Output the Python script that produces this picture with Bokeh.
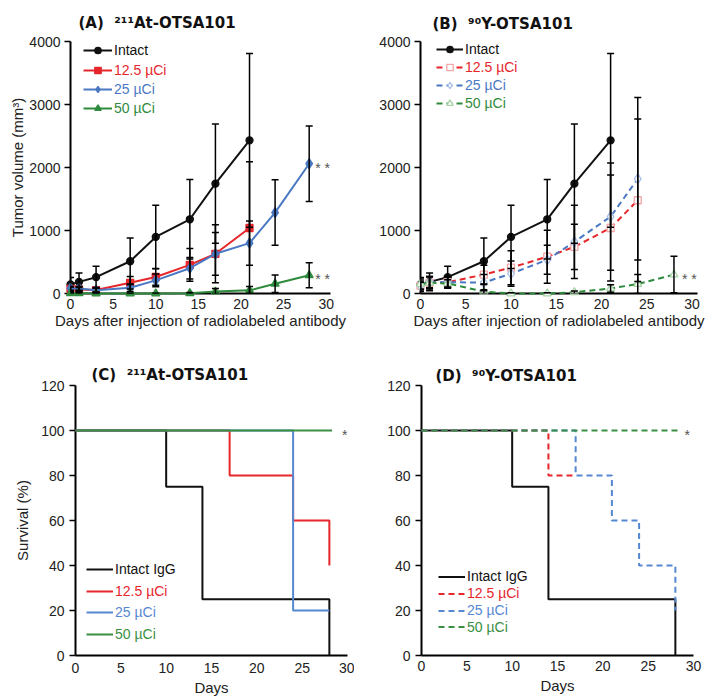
from bokeh.plotting import figure
from bokeh.models import (ColumnDataSource, Whisker, TeeHead, Legend, LegendItem,
                          Label, Range1d, FixedTicker)
from bokeh.layouts import row, column
from bokeh.embed import file_html
from bokeh.resources import INLINE

FONT = "Liberation Sans"
TITLE_FONT = "DejaVu Sans"

# ---------------- data: tumour volume (mm^3) ----------------
intact_days = [0, 1, 3, 7, 10, 14, 17, 21]
intact_mean = [143, 185, 259, 512, 898, 1178, 1744, 2431]
intact_sd = [110, 140, 175, 368, 502, 632, 946, 1379]

a125_days = [0, 1, 3, 7, 10, 14, 17, 21]
a125_mean = [74, 64, 55, 170, 262, 454, 630, 1040]
a125_sd = [30, 30, 40, 100, 130, 260, 460, 1050]

a25_days = [0, 1, 3, 7, 10, 14, 17, 21, 24, 28]
a25_mean = [80, 80, 53, 90, 208, 401, 630, 800, 1284, 2060]
a25_sd = [30, 30, 30, 60, 100, 170, 340, 350, 520, 600]

a50_days = [0, 1, 3, 7, 10, 14, 17, 21, 24, 28]
a50_mean = [5, 5, 0, 0, 0, 5, 30, 50, 155, 290]
a50_sd = [5, 5, 5, 5, 5, 10, 50, 60, 140, 200]

b125_days = [0, 1, 3, 7, 10, 14, 17, 21, 24]
b125_mean = [120, 170, 180, 300, 410, 583, 740, 1040, 1480]
b125_sd = [60, 90, 80, 150, 270, 420, 360, 840, 1290]

b25_days = [0, 1, 3, 7, 10, 14, 17, 21, 24]
b25_mean = [130, 180, 180, 173, 315, 535, 820, 1220, 1820]
b25_sd = [70, 90, 90, 130, 200, 230, 580, 850, 1290]

b50_days = [0, 1, 3, 7, 10, 14, 17, 21, 24, 28]
b50_mean = [150, 170, 160, 30, 0, 0, 20, 80, 150, 300]
b50_sd = [80, 100, 60, 30, 10, 10, 20, 60, 150, 290]

# ---------------- data: survival (%) ----------------
c_intact_days = [0, 10, 14, 28]
c_intact_surv = [100, 75, 25, 0]
c125_days = [0, 17, 24, 28]
c125_surv = [100, 80, 60, 40]
c25_days = [0, 24, 28]
c25_surv = [100, 20, 20]
c50_days = [0, 28.3]
c50_surv = [100, 100]

d_intact_days = [0, 10, 14, 28]
d_intact_surv = [100, 75, 25, 0]
d125_days = [0, 14, 17]
d125_surv = [100, 80, 80]
d25_days = [0, 17, 21, 24, 28]
d25_surv = [100, 80, 60, 40, 20]
d50_days = [0, 28.4]
d50_surv = [100, 100]

vol_ticks = [0, 1000, 2000, 3000, 4000]
surv_ticks = [0, 20, 40, 60, 80, 100, 120]
day_ticks = [0, 5, 10, 15, 20, 25, 30]

legend_a = ["Intact", "12.5 µCi", "25 µCi", "50 µCi"]
legend_c = ["Intact IgG", "12.5 µCi", "25 µCi", "50 µCi"]
titles = ["(A)\u00a0 ²¹¹At-OTSA101", "(B)\u00a0 ⁹⁰Y-OTSA101",
          "(C)\u00a0 ²¹¹At-OTSA101", "(D)\u00a0 ⁹⁰Y-OTSA101"]

BLACK = "#111111"
RED = "#e5262b"
BLUE = "#4a78c2"
GREEN = "#2e8a3c"
RED_P = "#f2a6a8"
BLUE_P = "#a9c0e8"
GREEN_P = "#a8d4a8"
KM_BLUE = "#5688d2"
KM_GREEN = "#3a8f42"
GREY = "#555555"


def make_fig(ox, oy, W, H, fl, fr, ft, fb, xmax, ymax, yticks,
             ylabel, xlabel, ylab_standoff, ytick_standoff, xtick_standoff, xlab_standoff,
             title, t_offset, t_standoff):
    p = figure(width=W, height=H, output_backend="svg", toolbar_location=None,
               x_range=Range1d(0, xmax), y_range=Range1d(0, ymax),
               min_border_left=fl - ox, min_border_right=ox + W - fr,
               min_border_top=ft - oy, min_border_bottom=oy + H - fb,
               title=title)
    p.title.align = "left"
    p.title.offset = t_offset
    p.title.standoff = t_standoff
    p.title.text_font = TITLE_FONT
    p.title.text_font_size = "15px"
    p.title.text_font_style = "bold"
    p.title.text_color = "#111111"
    p.title.vertical_align = "bottom"
    p.grid.visible = False
    p.outline_line_color = None
    p.background_fill_color = "white"
    p.border_fill_color = "white"
    for ax in (p.xaxis[0], p.yaxis[0]):
        ax.axis_line_color = "black"
        ax.axis_line_width = 2
        ax.major_tick_line_color = "black"
        ax.major_tick_line_width = 1.5
        ax.minor_tick_line_color = None
        ax.major_label_text_font = FONT
        ax.major_label_text_font_size = "14px"
        ax.major_label_text_color = "#222222"
        ax.axis_label_text_font = FONT
        ax.axis_label_text_font_size = "15px"
        ax.axis_label_text_font_style = "normal"
        ax.axis_label_text_color = "#222222"
    p.xaxis.ticker = FixedTicker(ticks=day_ticks)
    p.yaxis.ticker = FixedTicker(ticks=yticks)
    p.xaxis.major_tick_out = 0
    p.xaxis.major_tick_in = 0
    p.yaxis.major_tick_out = 6
    p.yaxis.major_tick_in = 0
    p.yaxis.major_label_standoff = ytick_standoff
    p.xaxis.major_label_standoff = xtick_standoff
    if ylabel:
        p.yaxis.axis_label = ylabel
        p.yaxis.axis_label_standoff = ylab_standoff
    if xlabel:
        p.xaxis.axis_label = xlabel
        p.xaxis.axis_label_standoff = xlab_standoff
    return p


def legend(p, fl, fb, renderers, text, color, gx, gy, gw=28, h=16, standoff=2):
    leg = Legend(items=[LegendItem(label=text, renderers=renderers)],
                 location=(gx - fl, fb - (gy + h / 2)),
                 glyph_width=gw, glyph_height=h, label_height=h,
                 label_standoff=standoff, padding=0, margin=0, spacing=0,
                 border_line_alpha=0, background_fill_alpha=0,
                 label_text_font=FONT, label_text_font_size="14px",
                 label_text_color=color, level="overlay")
    p.add_layout(leg)


def series(p, days, mean, sd, color, marker, size, mcolor, mfill, dash="solid"):
    upper = [m + s for m, s in zip(mean, sd)]
    lower = [max(0, m - s) for m, s in zip(mean, sd)]
    src = ColumnDataSource(dict(x=days, y=mean, upper=upper, lower=lower))
    p.add_layout(Whisker(source=src, base="x", upper="upper", lower="lower",
                         line_color="black", line_width=1.5, level="overlay",
                         upper_head=TeeHead(size=7, line_color="black", line_width=1.5),
                         lower_head=TeeHead(size=7, line_color="black", line_width=1.5)))
    ln = p.line("x", "y", source=src, line_color=color, line_width=2,
                line_dash=dash, level="overlay")
    sc = p.scatter("x", "y", source=src, marker=marker, size=size,
                   line_color=mcolor, fill_color=mfill, line_width=1.3, level="overlay")
    return [ln, sc]


def stars(p, x, y, text, dx=8):
    p.add_layout(Label(x=x, y=y, text=text, x_offset=dx, y_offset=-4,
                       text_font=FONT, text_font_size="14px", text_color=GREY,
                       text_align="left", text_baseline="middle", level="overlay"))


# ---------------- panel A ----------------
A = dict(ox=0, oy=0, W=354, H=333, fl=70, ft=41, fb=293)
A_XEND = 30.5
A_FR = round(A["fl"] + A_XEND * 256 / 30)
pa = make_fig(A["ox"], A["oy"], A["W"], A["H"], A["fl"], A_FR, A["ft"], A["fb"],
              A_XEND, 4000, vol_ticks, "Tumor volume (mm³)",
              "Days after injection of radiolabeled antibody", 0, 4, 5, 0,
              titles[0], 8, 19)
ra0 = series(pa, intact_days, intact_mean, intact_sd, BLACK, "circle", 7, BLACK, BLACK)
ra1 = series(pa, a125_days, a125_mean, a125_sd, RED, "square", 7, RED, RED)
ra2 = series(pa, a25_days, a25_mean, a25_sd, BLUE, "diamond", 10, BLUE, BLUE)
ra3 = series(pa, a50_days, a50_mean, a50_sd, GREEN, "triangle", 8, GREEN, GREEN)
stars(pa, a25_days[-1], a25_mean[-1], "* *", dx=6)
stars(pa, a50_days[-1], a50_mean[-1], "* *", dx=6)
for i, (r, c) in enumerate(zip([ra0, ra1, ra2, ra3], [BLACK, RED, BLUE, GREEN])):
    legend(pa, A["fl"], A["fb"], r, legend_a[i], c, 83, [50, 69.5, 89, 108][i], gw=29)

# ---------------- panel B ----------------
B = dict(ox=354, oy=0, W=355, H=333, fl=420, ft=39, fb=293)
B_XEND = 30.6
B_FR = round(B["fl"] + B_XEND * 272 / 30)
pb = make_fig(B["ox"], B["oy"], B["W"], B["H"], B["fl"], B_FR, B["ft"], B["fb"],
              B_XEND, 4000, vol_ticks, None,
              "Days after injection of radiolabeled antibody", 1, 4, 5, 0,
              titles[1], 12, 17)
rb0 = series(pb, intact_days, intact_mean, intact_sd, BLACK, "circle", 7, BLACK, BLACK)
rb1 = series(pb, b125_days, b125_mean, b125_sd, RED, "square", 7, RED_P, "white", "6 4")
rb2 = series(pb, b25_days, b25_mean, b25_sd, BLUE, "diamond", 10, BLUE_P, "white", "6 4")
rb3 = series(pb, b50_days, b50_mean, b50_sd, GREEN, "triangle", 8, GREEN_P, "white", "6 4")
stars(pb, b50_days[-1], b50_mean[-1], "* *", dx=8)
for i, (r, c) in enumerate(zip([rb0, rb1, rb2, rb3], [BLACK, RED, BLUE, GREEN])):
    legend(pb, B["fl"], B["fb"], r, legend_a[i], c, 436, [48.5, 66.5, 85, 103][i], gw=27)

# ---------------- panel C ----------------
C = dict(ox=0, oy=333, W=354, H=367, fl=75, fr=347, ft=382, fb=655)
pc = make_fig(C["ox"], C["oy"], C["W"], C["H"], C["fl"], C["fr"], C["ft"], C["fb"],
              30, 120, surv_ticks, "Survival (%)", "Days", 7, 5, 7, 3,
              titles[2], 16, 4)
rc0 = pc.step(c_intact_days, c_intact_surv, mode="after", line_color=BLACK, line_width=2, level="overlay")
rc1 = pc.step(c125_days, c125_surv, mode="after", line_color=RED, line_width=2, level="overlay")
rc2 = pc.step(c25_days, c25_surv, mode="after", line_color=KM_BLUE, line_width=2, level="overlay")
rc3 = pc.step(c50_days, c50_surv, mode="after", line_color=KM_GREEN, line_width=2, level="overlay")
stars(pc, 29.4, 100, "*", dx=0)
for i, (r, c) in enumerate(zip([rc0, rc1, rc2, rc3], [BLACK, RED, KM_BLUE, KM_GREEN])):
    legend(pc, C["fl"], C["fb"], [r], legend_c[i], c, 86, [569, 590.5, 612, 633.5][i], gw=27, h=20)

# ---------------- panel D ----------------
D = dict(ox=354, oy=333, W=355, H=367, fl=421, fr=693, ft=385, fb=657)
pd_ = make_fig(D["ox"], D["oy"], D["W"], D["H"], D["fl"], D["fr"], D["ft"], D["fb"],
               30, 120, surv_ticks, None, "Days", 7, 5, 5, 3,
               titles[3], 14, 2)
rd0 = pd_.step(d_intact_days, d_intact_surv, mode="after", line_color=BLACK, line_width=2, level="overlay")
rd1 = pd_.step(d125_days, d125_surv, mode="after", line_color=RED, line_width=2, line_dash="6 4", level="overlay")
rd2 = pd_.step(d25_days, d25_surv, mode="after", line_color=KM_BLUE, line_width=2, line_dash="6 4", level="overlay")
rd3 = pd_.step(d50_days, d50_surv, mode="after", line_color=KM_GREEN, line_width=2, line_dash="6 4", level="overlay")
stars(pd_, 29.0, 100, "*", dx=0)
for i, (r, c) in enumerate(zip([rd0, rd1, rd2, rd3], [BLACK, RED, KM_BLUE, KM_GREEN])):
    legend(pd_, D["fl"], D["fb"], [r], legend_c[i], c, 438, [578, 595, 612, 628.5][i], gw=27, h=17)

layout = column(row(pa, pb), row(pc, pd_))
open("out.html", "w").write(file_html(layout, INLINE))
